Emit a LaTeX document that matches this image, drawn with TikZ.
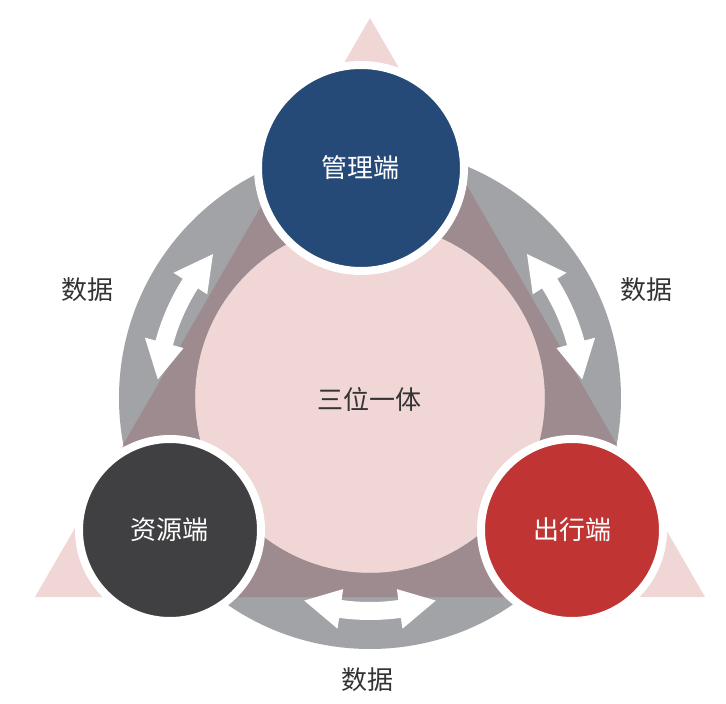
\documentclass[tikz,border=0pt]{standalone}
\usepackage{fontspec}
\newfontfamily\cjk{Noto Sans CJK SC}
\definecolor{navy}{HTML}{264A78}
\definecolor{redc}{HTML}{C03434}
\definecolor{darkc}{HTML}{404042}
\definecolor{ringgray}{HTML}{A2A3A7}
\definecolor{palepink}{HTML}{F1D6D6}
\definecolor{mauve}{HTML}{9D8B8F}
\definecolor{txt}{HTML}{333333}
\newcommand{\dblarrow}[2]{%
  \fill[white] (#1:213) -- ({#1+10}:233) -- ({#1+10}:222)
    arc[start angle={#1+10}, end angle={#2-10}, radius=222]
    -- ({#2-10}:233) -- (#2:213) -- ({#2-10}:193) -- ({#2-10}:204)
    arc[start angle={#2-10}, end angle={#1+10}, radius=204]
    -- ({#1+10}:193) -- cycle;}
\begin{document}
\begin{tikzpicture}[x=1pt,y=1pt,
  hub/.style={circle, draw=white, line width=8pt, inner sep=0pt, text=white,
    font=\cjk\fontsize{26}{30}\selectfont},
  lbl/.style={text=txt, font=\cjk\fontsize{26}{30}\selectfont}]
\useasboundingbox (-370,-306) rectangle (356,398);
% triangle
\fill[palepink] (0,380) -- (-335,-199) -- (335,-199) -- cycle;
% ring
\fill[ringgray, even odd rule] (0,0) circle[radius=251] (0,0) circle[radius=175];
\begin{scope}
  \clip (0,380) -- (-335,-199) -- (335,-199) -- cycle;
  \fill[mauve, even odd rule] (0,0) circle[radius=251] (0,0) circle[radius=175];
\end{scope}
% arrows
\dblarrow{137.5}{175}
\dblarrow{5}{42.5}
\dblarrow{252}{288}
% hubs
\node[hub, fill=navy, minimum size=206pt] (top) at (-9,230) {管理端};
\node[hub, fill=darkc, minimum size=182pt] (res) at (-200,-132) {资源端};
\node[hub, fill=redc, minimum size=182pt] (out) at (202,-132) {出行端};
% labels
\node[lbl] (center) at (0,-2) {三位一体};
\node[lbl] (dl) at (-282,108) {数据};
\node[lbl] (dr) at (276,108) {数据};
\node[lbl] (db) at (-2,-282) {数据};
\end{tikzpicture}
\end{document}
